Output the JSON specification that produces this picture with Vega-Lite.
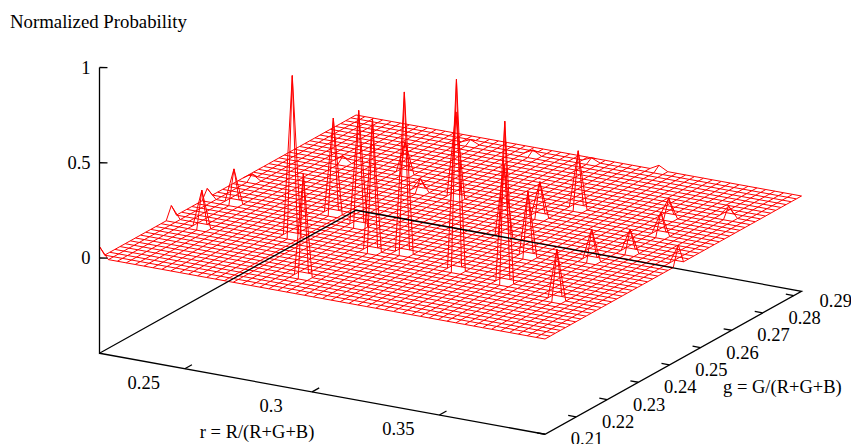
{"$schema":"https://vega.github.io/schema/vega-lite/v6.json","width":851,"height":444,"padding":0,"autosize":"none","background":"white","view":{"stroke":null},
"datasets":{"surface":[
{"r":0.2165,"g":0.21,"p":0.06},{"r":0.22,"g":0.21,"p":0},{"r":0.2235,"g":0.21,"p":0},{"r":0.227,"g":0.21,"p":0},{"r":0.2305,"g":0.21,"p":0},{"r":0.234,"g":0.21,"p":0},{"r":0.2375,"g":0.21,"p":0},{"r":0.241,"g":0.21,"p":0},{"r":0.2445,"g":0.21,"p":0},{"r":0.248,"g":0.21,"p":0},{"r":0.2515,"g":0.21,"p":0},{"r":0.255,"g":0.21,"p":0},{"r":0.2585,"g":0.21,"p":0},{"r":0.262,"g":0.21,"p":0},{"r":0.2655,"g":0.21,"p":0},{"r":0.269,"g":0.21,"p":0},{"r":0.2725,"g":0.21,"p":0},{"r":0.276,"g":0.21,"p":0},{"r":0.2795,"g":0.21,"p":0},{"r":0.283,"g":0.21,"p":0},{"r":0.2865,"g":0.21,"p":0},{"r":0.29,"g":0.21,"p":0},{"r":0.2935,"g":0.21,"p":0},{"r":0.297,"g":0.21,"p":0},{"r":0.3005,"g":0.21,"p":0},{"r":0.304,"g":0.21,"p":0},{"r":0.3075,"g":0.21,"p":0},{"r":0.311,"g":0.21,"p":0},{"r":0.3145,"g":0.21,"p":0},{"r":0.318,"g":0.21,"p":0},{"r":0.3215,"g":0.21,"p":0},{"r":0.325,"g":0.21,"p":0},{"r":0.3285,"g":0.21,"p":0},{"r":0.332,"g":0.21,"p":0},{"r":0.3355,"g":0.21,"p":0},{"r":0.339,"g":0.21,"p":0},{"r":0.3425,"g":0.21,"p":0},{"r":0.346,"g":0.21,"p":0},{"r":0.3495,"g":0.21,"p":0},{"r":0.353,"g":0.21,"p":0},{"r":0.3565,"g":0.21,"p":0},{"r":0.36,"g":0.21,"p":0},{"r":0.3635,"g":0.21,"p":0},{"r":0.367,"g":0.21,"p":0},{"r":0.3705,"g":0.21,"p":0},{"r":0.374,"g":0.21,"p":0},{"r":0.3775,"g":0.21,"p":0},{"r":0.381,"g":0.21,"p":0},{"r":0.3845,"g":0.21,"p":0},{"r":0.388,"g":0.21,"p":0},{"r":0.3915,"g":0.21,"p":0},
{"r":0.2165,"g":0.2925,"p":0},{"r":0.22,"g":0.2925,"p":0},{"r":0.2235,"g":0.2925,"p":0},{"r":0.227,"g":0.2925,"p":0},{"r":0.2305,"g":0.2925,"p":0},{"r":0.234,"g":0.2925,"p":0},{"r":0.2375,"g":0.2925,"p":0},{"r":0.241,"g":0.2925,"p":0},{"r":0.2445,"g":0.2925,"p":0},{"r":0.248,"g":0.2925,"p":0},{"r":0.2515,"g":0.2925,"p":0},{"r":0.255,"g":0.2925,"p":0},{"r":0.2585,"g":0.2925,"p":0},{"r":0.262,"g":0.2925,"p":0},{"r":0.2655,"g":0.2925,"p":0},{"r":0.269,"g":0.2925,"p":0},{"r":0.2725,"g":0.2925,"p":0},{"r":0.276,"g":0.2925,"p":0},{"r":0.2795,"g":0.2925,"p":0},{"r":0.283,"g":0.2925,"p":0},{"r":0.2865,"g":0.2925,"p":0},{"r":0.29,"g":0.2925,"p":0},{"r":0.2935,"g":0.2925,"p":0},{"r":0.297,"g":0.2925,"p":0},{"r":0.3005,"g":0.2925,"p":0},{"r":0.304,"g":0.2925,"p":0},{"r":0.3075,"g":0.2925,"p":0},{"r":0.311,"g":0.2925,"p":0},{"r":0.3145,"g":0.2925,"p":0},{"r":0.318,"g":0.2925,"p":0},{"r":0.3215,"g":0.2925,"p":0},{"r":0.325,"g":0.2925,"p":0},{"r":0.3285,"g":0.2925,"p":0},{"r":0.332,"g":0.2925,"p":0},{"r":0.3355,"g":0.2925,"p":0.025},{"r":0.339,"g":0.2925,"p":0},{"r":0.3425,"g":0.2925,"p":0},{"r":0.346,"g":0.2925,"p":0},{"r":0.3495,"g":0.2925,"p":0},{"r":0.353,"g":0.2925,"p":0},{"r":0.3565,"g":0.2925,"p":0},{"r":0.36,"g":0.2925,"p":0},{"r":0.3635,"g":0.2925,"p":0},{"r":0.367,"g":0.2925,"p":0},{"r":0.3705,"g":0.2925,"p":0},{"r":0.374,"g":0.2925,"p":0},{"r":0.3775,"g":0.2925,"p":0},{"r":0.381,"g":0.2925,"p":0},{"r":0.3845,"g":0.2925,"p":0},{"r":0.388,"g":0.2925,"p":0},{"r":0.3915,"g":0.2925,"p":0},
{"r":0.2165,"g":0.21165,"p":0},{"r":0.2165,"g":0.2133,"p":0},{"r":0.2165,"g":0.21495,"p":0},{"r":0.2165,"g":0.2166,"p":0},{"r":0.2165,"g":0.21825,"p":0},{"r":0.2165,"g":0.2199,"p":0},{"r":0.2165,"g":0.22155,"p":0},{"r":0.2165,"g":0.2232,"p":0},{"r":0.2165,"g":0.22485,"p":0},{"r":0.2165,"g":0.2265,"p":0},{"r":0.2165,"g":0.22815,"p":0},{"r":0.2165,"g":0.2298,"p":0},{"r":0.2165,"g":0.23145,"p":0},{"r":0.2165,"g":0.2331,"p":0.065},{"r":0.2165,"g":0.23475,"p":0},{"r":0.2165,"g":0.2364,"p":0},{"r":0.2165,"g":0.23805,"p":0},{"r":0.2165,"g":0.2397,"p":0},{"r":0.2165,"g":0.24135,"p":0},{"r":0.2165,"g":0.243,"p":0},{"r":0.2165,"g":0.24465,"p":0.05},{"r":0.2165,"g":0.2463,"p":0},{"r":0.2165,"g":0.24795,"p":0},{"r":0.2165,"g":0.2496,"p":0},{"r":0.2165,"g":0.25125,"p":0},{"r":0.2165,"g":0.2529,"p":0},{"r":0.2165,"g":0.25455,"p":0},{"r":0.2165,"g":0.2562,"p":0},{"r":0.2165,"g":0.25785,"p":0},{"r":0.2165,"g":0.2595,"p":0},{"r":0.2165,"g":0.26115,"p":0},{"r":0.2165,"g":0.2628,"p":0},{"r":0.2165,"g":0.26445,"p":0},{"r":0.2165,"g":0.2661,"p":0},{"r":0.2165,"g":0.26775,"p":0},{"r":0.2165,"g":0.2694,"p":0},{"r":0.2165,"g":0.27105,"p":0},{"r":0.2165,"g":0.2727,"p":0},{"r":0.2165,"g":0.27435,"p":0},{"r":0.2165,"g":0.276,"p":0},{"r":0.2165,"g":0.27765,"p":0},{"r":0.2165,"g":0.2793,"p":0},{"r":0.2165,"g":0.28095,"p":0},{"r":0.2165,"g":0.2826,"p":0},{"r":0.2165,"g":0.28425,"p":0},{"r":0.2165,"g":0.2859,"p":0},{"r":0.2165,"g":0.28755,"p":0},{"r":0.2165,"g":0.2892,"p":0},{"r":0.2165,"g":0.29085,"p":0},
{"r":0.3915,"g":0.21165,"p":0},{"r":0.3915,"g":0.2133,"p":0},{"r":0.3915,"g":0.21495,"p":0},{"r":0.3915,"g":0.2166,"p":0},{"r":0.3915,"g":0.21825,"p":0},{"r":0.3915,"g":0.2199,"p":0},{"r":0.3915,"g":0.22155,"p":0},{"r":0.3915,"g":0.2232,"p":0},{"r":0.3915,"g":0.22485,"p":0},{"r":0.3915,"g":0.2265,"p":0},{"r":0.3915,"g":0.22815,"p":0},{"r":0.3915,"g":0.2298,"p":0},{"r":0.3915,"g":0.23145,"p":0},{"r":0.3915,"g":0.2331,"p":0},{"r":0.3915,"g":0.23475,"p":0},{"r":0.3915,"g":0.2364,"p":0},{"r":0.3915,"g":0.23805,"p":0},{"r":0.3915,"g":0.2397,"p":0},{"r":0.3915,"g":0.24135,"p":0},{"r":0.3915,"g":0.243,"p":0},{"r":0.3915,"g":0.24465,"p":0},{"r":0.3915,"g":0.2463,"p":0},{"r":0.3915,"g":0.24795,"p":0},{"r":0.3915,"g":0.2496,"p":0},{"r":0.3915,"g":0.25125,"p":0},{"r":0.3915,"g":0.2529,"p":0.103},{"r":0.3915,"g":0.25455,"p":0},{"r":0.3915,"g":0.2562,"p":0},{"r":0.3915,"g":0.25785,"p":0},{"r":0.3915,"g":0.2595,"p":0},{"r":0.3915,"g":0.26115,"p":0},{"r":0.3915,"g":0.2628,"p":0},{"r":0.3915,"g":0.26445,"p":0},{"r":0.3915,"g":0.2661,"p":0},{"r":0.3915,"g":0.26775,"p":0},{"r":0.3915,"g":0.2694,"p":0},{"r":0.3915,"g":0.27105,"p":0},{"r":0.3915,"g":0.2727,"p":0},{"r":0.3915,"g":0.27435,"p":0},{"r":0.3915,"g":0.276,"p":0},{"r":0.3915,"g":0.27765,"p":0},{"r":0.3915,"g":0.2793,"p":0},{"r":0.3915,"g":0.28095,"p":0},{"r":0.3915,"g":0.2826,"p":0},{"r":0.3915,"g":0.28425,"p":0},{"r":0.3915,"g":0.2859,"p":0},{"r":0.3915,"g":0.28755,"p":0},{"r":0.3915,"g":0.2892,"p":0},{"r":0.3915,"g":0.29085,"p":0},
{"r":0.2305,"g":0.23145,"p":0.195},{"r":0.227,"g":0.23145,"p":0},{"r":0.234,"g":0.23145,"p":0},{"r":0.2305,"g":0.2298,"p":0},{"r":0.2305,"g":0.2331,"p":0},
{"r":0.22,"g":0.2331,"p":0},{"r":0.22,"g":0.24465,"p":0},
{"r":0.227,"g":0.24465,"p":0.178},{"r":0.2235,"g":0.24465,"p":0},{"r":0.2305,"g":0.24465,"p":0},{"r":0.227,"g":0.243,"p":0},{"r":0.227,"g":0.2463,"p":0},
{"r":0.22,"g":0.2562,"p":0.03},{"r":0.2235,"g":0.2562,"p":0},{"r":0.22,"g":0.25455,"p":0},{"r":0.22,"g":0.25785,"p":0},
{"r":0.262,"g":0.23475,"p":0.843},{"r":0.2585,"g":0.23475,"p":0},{"r":0.2655,"g":0.23475,"p":0},{"r":0.262,"g":0.2331,"p":0},{"r":0.262,"g":0.2364,"p":0},
{"r":0.2865,"g":0.21825,"p":0.537},{"r":0.283,"g":0.21825,"p":0},{"r":0.29,"g":0.21825,"p":0},{"r":0.2865,"g":0.2166,"p":0},{"r":0.2865,"g":0.2199,"p":0},
{"r":0.262,"g":0.24795,"p":0.5},{"r":0.2585,"g":0.24795,"p":0},{"r":0.2655,"g":0.24795,"p":0},{"r":0.262,"g":0.2463,"p":0},{"r":0.262,"g":0.2496,"p":0},
{"r":0.276,"g":0.24465,"p":0.604},{"r":0.2725,"g":0.24465,"p":0},{"r":0.2795,"g":0.24465,"p":0},{"r":0.276,"g":0.243,"p":0},{"r":0.276,"g":0.2463,"p":0},
{"r":0.2935,"g":0.23475,"p":0.693},{"r":0.29,"g":0.23475,"p":0},{"r":0.297,"g":0.23475,"p":0},{"r":0.2935,"g":0.2331,"p":0},{"r":0.2935,"g":0.2364,"p":0},
{"r":0.2375,"g":0.27105,"p":0.03},{"r":0.234,"g":0.27105,"p":0},{"r":0.241,"g":0.27105,"p":0},{"r":0.2375,"g":0.2694,"p":0},{"r":0.2375,"g":0.2727,"p":0},
{"r":0.304,"g":0.2364,"p":0.844},{"r":0.3005,"g":0.2364,"p":0},{"r":0.3075,"g":0.2364,"p":0},{"r":0.304,"g":0.23475,"p":0},{"r":0.304,"g":0.23805,"p":0},
{"r":0.262,"g":0.27105,"p":0.166},{"r":0.2585,"g":0.27105,"p":0},{"r":0.2655,"g":0.27105,"p":0},{"r":0.262,"g":0.2694,"p":0},{"r":0.262,"g":0.2727,"p":0},
{"r":0.3285,"g":0.2331,"p":1},{"r":0.325,"g":0.2331,"p":0},{"r":0.332,"g":0.2331,"p":0},{"r":0.3285,"g":0.23145,"p":0},{"r":0.3285,"g":0.23475,"p":0},
{"r":0.29,"g":0.26445,"p":0.45},{"r":0.2865,"g":0.26445,"p":0},{"r":0.2935,"g":0.26445,"p":0},{"r":0.29,"g":0.2628,"p":0},{"r":0.29,"g":0.2661,"p":0},
{"r":0.276,"g":0.26445,"p":0.067},{"r":0.2725,"g":0.26445,"p":0},{"r":0.2795,"g":0.26445,"p":0},{"r":0.276,"g":0.2628,"p":0},{"r":0.276,"g":0.2661,"p":0},
{"r":0.2655,"g":0.2892,"p":0.02},{"r":0.262,"g":0.2892,"p":0},{"r":0.269,"g":0.2892,"p":0},{"r":0.2655,"g":0.28755,"p":0},{"r":0.2655,"g":0.29085,"p":0},
{"r":0.3495,"g":0.23145,"p":0.846},{"r":0.346,"g":0.23145,"p":0},{"r":0.353,"g":0.23145,"p":0},{"r":0.3495,"g":0.2298,"p":0},{"r":0.3495,"g":0.2331,"p":0},
{"r":0.325,"g":0.25125,"p":0.377},{"r":0.3215,"g":0.25125,"p":0},{"r":0.3285,"g":0.25125,"p":0},{"r":0.325,"g":0.2496,"p":0},{"r":0.325,"g":0.2529,"p":0},
{"r":0.29,"g":0.2892,"p":0.025},{"r":0.2865,"g":0.2892,"p":0},{"r":0.2935,"g":0.2892,"p":0},{"r":0.29,"g":0.28755,"p":0},{"r":0.29,"g":0.29085,"p":0},
{"r":0.3425,"g":0.24465,"p":0.34},{"r":0.339,"g":0.24465,"p":0},{"r":0.346,"g":0.24465,"p":0},{"r":0.3425,"g":0.243,"p":0},{"r":0.3425,"g":0.2463,"p":0},
{"r":0.325,"g":0.2628,"p":0.184},{"r":0.3215,"g":0.2628,"p":0},{"r":0.3285,"g":0.2628,"p":0},{"r":0.325,"g":0.26115,"p":0},{"r":0.325,"g":0.26445,"p":0},
{"r":0.332,"g":0.2694,"p":0.303},{"r":0.3285,"g":0.2694,"p":0},{"r":0.3355,"g":0.2694,"p":0},{"r":0.332,"g":0.26775,"p":0},{"r":0.332,"g":0.27105,"p":0},
{"r":0.311,"g":0.29085,"p":0.02},{"r":0.3075,"g":0.29085,"p":0},{"r":0.3145,"g":0.29085,"p":0},{"r":0.311,"g":0.2892,"p":0},
{"r":0.3635,"g":0.24795,"p":0.163},{"r":0.36,"g":0.24795,"p":0},{"r":0.367,"g":0.24795,"p":0},{"r":0.3635,"g":0.2463,"p":0},{"r":0.3635,"g":0.2496,"p":0},
{"r":0.374,"g":0.22815,"p":0.264},{"r":0.3705,"g":0.22815,"p":0},{"r":0.3775,"g":0.22815,"p":0},{"r":0.374,"g":0.2265,"p":0},{"r":0.374,"g":0.2298,"p":0},
{"r":0.3355,"g":0.29085,"p":0},
{"r":0.3635,"g":0.2727,"p":0.1},{"r":0.36,"g":0.2727,"p":0},{"r":0.367,"g":0.2727,"p":0},{"r":0.3635,"g":0.27105,"p":0},{"r":0.3635,"g":0.27435,"p":0},
{"r":0.3705,"g":0.26445,"p":0.119},{"r":0.367,"g":0.26445,"p":0},{"r":0.374,"g":0.26445,"p":0},{"r":0.3705,"g":0.2628,"p":0},{"r":0.3705,"g":0.2661,"p":0},
{"r":0.381,"g":0.27765,"p":0.057},{"r":0.3775,"g":0.27765,"p":0},{"r":0.3845,"g":0.27765,"p":0},{"r":0.381,"g":0.276,"p":0},{"r":0.381,"g":0.2793,"p":0},
{"r":0.3705,"g":0.25455,"p":0.12},{"r":0.367,"g":0.25455,"p":0},{"r":0.374,"g":0.25455,"p":0},{"r":0.3705,"g":0.2529,"p":0},{"r":0.3705,"g":0.2562,"p":0},
{"r":0.388,"g":0.2529,"p":0}
],
"frame":[
{"s":"box","n":1,"r":0.2165,"g":0.21,"p":-0.5},{"s":"box","n":2,"r":0.3915,"g":0.21,"p":-0.5},{"s":"box","n":3,"r":0.3915,"g":0.2925,"p":-0.5},{"s":"box","n":4,"r":0.2165,"g":0.2925,"p":-0.5},{"s":"box","n":5,"r":0.2165,"g":0.21,"p":-0.5},{"s":"box","n":6,"r":0.2165,"g":0.21,"p":1},
{"s":"r1","n":1,"r":0.25,"g":0.21,"p":-0.5},{"s":"r1","n":2,"r":0.25,"g":0.2123,"p":-0.5},
{"s":"r2","n":1,"r":0.3,"g":0.21,"p":-0.5},{"s":"r2","n":2,"r":0.3,"g":0.2123,"p":-0.5},
{"s":"r3","n":1,"r":0.35,"g":0.21,"p":-0.5},{"s":"r3","n":2,"r":0.35,"g":0.2123,"p":-0.5},
{"s":"g1","n":1,"r":0.3915,"g":0.21,"p":-0.5},{"s":"g1","n":2,"r":0.3884,"g":0.21,"p":-0.5},
{"s":"g2","n":1,"r":0.3915,"g":0.22,"p":-0.5},{"s":"g2","n":2,"r":0.3884,"g":0.22,"p":-0.5},
{"s":"g3","n":1,"r":0.3915,"g":0.23,"p":-0.5},{"s":"g3","n":2,"r":0.3884,"g":0.23,"p":-0.5},
{"s":"g4","n":1,"r":0.3915,"g":0.24,"p":-0.5},{"s":"g4","n":2,"r":0.3884,"g":0.24,"p":-0.5},
{"s":"g5","n":1,"r":0.3915,"g":0.25,"p":-0.5},{"s":"g5","n":2,"r":0.3884,"g":0.25,"p":-0.5},
{"s":"g6","n":1,"r":0.3915,"g":0.26,"p":-0.5},{"s":"g6","n":2,"r":0.3884,"g":0.26,"p":-0.5},
{"s":"g7","n":1,"r":0.3915,"g":0.27,"p":-0.5},{"s":"g7","n":2,"r":0.3884,"g":0.27,"p":-0.5},
{"s":"g8","n":1,"r":0.3915,"g":0.28,"p":-0.5},{"s":"g8","n":2,"r":0.3884,"g":0.28,"p":-0.5},
{"s":"g9","n":1,"r":0.3915,"g":0.29,"p":-0.5},{"s":"g9","n":2,"r":0.3884,"g":0.29,"p":-0.5},
{"s":"z1","n":1,"r":0.2165,"g":0.21,"p":1},{"s":"z1","n":2,"r":0.2189,"g":0.2106,"p":1},
{"s":"z2","n":1,"r":0.2165,"g":0.21,"p":0.5},{"s":"z2","n":2,"r":0.2189,"g":0.2106,"p":0.5},
{"s":"z3","n":1,"r":0.2165,"g":0.21,"p":0},{"s":"z3","n":2,"r":0.2189,"g":0.2106,"p":0}
]},
"layer":[
{"data":{"name":"surface"},"transform":[{"calculate":"99.5+(datum.r-0.2165)/0.175*445.5+(datum.g-0.21)/0.0825*256.5","as":"sx"},{"calculate":"258+(datum.r-0.2165)/0.175*81-(datum.g-0.21)/0.0825*143-190.5*datum.p","as":"sy"}],"mark":{"type":"line","stroke":"#ff0000","strokeWidth":1,"interpolate":"linear"},"encoding":{"x":{"field":"sx","type":"quantitative","scale":{"domain":[0,851],"nice":false,"zero":false},"axis":null},"y":{"field":"sy","type":"quantitative","scale":{"domain":[444,0],"nice":false,"zero":false},"axis":null},"detail":{"field":"r"},"order":{"field":"g"}}},
{"data":{"name":"surface"},"transform":[{"calculate":"99.5+(datum.r-0.2165)/0.175*445.5+(datum.g-0.21)/0.0825*256.5","as":"sx"},{"calculate":"258+(datum.r-0.2165)/0.175*81-(datum.g-0.21)/0.0825*143-190.5*datum.p","as":"sy"}],"mark":{"type":"line","stroke":"#ff0000","strokeWidth":1,"interpolate":"linear"},"encoding":{"x":{"field":"sx","type":"quantitative","scale":{"domain":[0,851],"nice":false,"zero":false},"axis":null},"y":{"field":"sy","type":"quantitative","scale":{"domain":[444,0],"nice":false,"zero":false},"axis":null},"detail":{"field":"g"},"order":{"field":"r"}}},
{"data":{"name":"frame"},"transform":[{"calculate":"99.5+(datum.r-0.2165)/0.175*445.5+(datum.g-0.21)/0.0825*256.5","as":"sx"},{"calculate":"258+(datum.r-0.2165)/0.175*81-(datum.g-0.21)/0.0825*143-190.5*datum.p","as":"sy"}],"mark":{"type":"line","stroke":"#000000","strokeWidth":1.3},"encoding":{"x":{"field":"sx","type":"quantitative","scale":{"domain":[0,851],"nice":false,"zero":false},"axis":null},"y":{"field":"sy","type":"quantitative","scale":{"domain":[444,0],"nice":false,"zero":false},"axis":null},"detail":{"field":"s"},"order":{"field":"n"}}},
{"data":{"values":[{"t":"0.25","r":0.25,"g":0.21,"p":-0.5},{"t":"0.3","r":0.3,"g":0.21,"p":-0.5},{"t":"0.35","r":0.35,"g":0.21,"p":-0.5}]},"transform":[{"calculate":"99.5+(datum.r-0.2165)/0.175*445.5+(datum.g-0.21)/0.0825*256.5","as":"sx"},{"calculate":"258+(datum.r-0.2165)/0.175*81-(datum.g-0.21)/0.0825*143-190.5*datum.p","as":"sy"}],"mark":{"type":"text","font":"Liberation Serif","fontSize":18.5,"dx":-41,"dy":14,"align":"center","baseline":"middle","color":"#000000"},"encoding":{"x":{"field":"sx","type":"quantitative","scale":{"domain":[0,851],"nice":false,"zero":false},"axis":null},"y":{"field":"sy","type":"quantitative","scale":{"domain":[444,0],"nice":false,"zero":false},"axis":null},"text":{"field":"t"}}},
{"data":{"values":[{"t":"0.21","r":0.3915,"g":0.21,"p":-0.5},{"t":"0.22","r":0.3915,"g":0.22,"p":-0.5},{"t":"0.23","r":0.3915,"g":0.23,"p":-0.5},{"t":"0.24","r":0.3915,"g":0.24,"p":-0.5},{"t":"0.25","r":0.3915,"g":0.25,"p":-0.5},{"t":"0.26","r":0.3915,"g":0.26,"p":-0.5},{"t":"0.27","r":0.3915,"g":0.27,"p":-0.5},{"t":"0.28","r":0.3915,"g":0.28,"p":-0.5},{"t":"0.29","r":0.3915,"g":0.29,"p":-0.5}]},"transform":[{"calculate":"99.5+(datum.r-0.2165)/0.175*445.5+(datum.g-0.21)/0.0825*256.5","as":"sx"},{"calculate":"258+(datum.r-0.2165)/0.175*81-(datum.g-0.21)/0.0825*143-190.5*datum.p","as":"sy"}],"mark":{"type":"text","font":"Liberation Serif","fontSize":18.5,"dx":42,"dy":5,"align":"center","baseline":"middle","color":"#000000"},"encoding":{"x":{"field":"sx","type":"quantitative","scale":{"domain":[0,851],"nice":false,"zero":false},"axis":null},"y":{"field":"sy","type":"quantitative","scale":{"domain":[444,0],"nice":false,"zero":false},"axis":null},"text":{"field":"t"}}},
{"data":{"values":[{"t":"1","r":0.2165,"g":0.21,"p":1},{"t":"0.5","r":0.2165,"g":0.21,"p":0.5},{"t":"0","r":0.2165,"g":0.21,"p":0}]},"transform":[{"calculate":"99.5+(datum.r-0.2165)/0.175*445.5+(datum.g-0.21)/0.0825*256.5","as":"sx"},{"calculate":"258+(datum.r-0.2165)/0.175*81-(datum.g-0.21)/0.0825*143-190.5*datum.p","as":"sy"}],"mark":{"type":"text","font":"Liberation Serif","fontSize":18.5,"dx":-9,"dy":0,"align":"right","baseline":"middle","color":"#000000"},"encoding":{"x":{"field":"sx","type":"quantitative","scale":{"domain":[0,851],"nice":false,"zero":false},"axis":null},"y":{"field":"sy","type":"quantitative","scale":{"domain":[444,0],"nice":false,"zero":false},"axis":null},"text":{"field":"t"}}},
{"data":{"values":[{"t":"r = R/(R+G+B)","r":0.3,"g":0.21,"p":-0.5}]},"transform":[{"calculate":"99.5+(datum.r-0.2165)/0.175*445.5+(datum.g-0.21)/0.0825*256.5","as":"sx"},{"calculate":"258+(datum.r-0.2165)/0.175*81-(datum.g-0.21)/0.0825*143-190.5*datum.p","as":"sy"}],"mark":{"type":"text","font":"Liberation Serif","fontSize":18.5,"dx":-55,"dy":40,"align":"center","baseline":"middle","color":"#000000"},"encoding":{"x":{"field":"sx","type":"quantitative","scale":{"domain":[0,851],"nice":false,"zero":false},"axis":null},"y":{"field":"sy","type":"quantitative","scale":{"domain":[444,0],"nice":false,"zero":false},"axis":null},"text":{"field":"t"}}},
{"data":{"values":[{"t":"g = G/(R+G+B)","r":0.3915,"g":0.25,"p":-0.5}]},"transform":[{"calculate":"99.5+(datum.r-0.2165)/0.175*445.5+(datum.g-0.21)/0.0825*256.5","as":"sx"},{"calculate":"258+(datum.r-0.2165)/0.175*81-(datum.g-0.21)/0.0825*143-190.5*datum.p","as":"sy"}],"mark":{"type":"text","font":"Liberation Serif","fontSize":18.5,"dx":113,"dy":22,"align":"center","baseline":"middle","color":"#000000"},"encoding":{"x":{"field":"sx","type":"quantitative","scale":{"domain":[0,851],"nice":false,"zero":false},"axis":null},"y":{"field":"sy","type":"quantitative","scale":{"domain":[444,0],"nice":false,"zero":false},"axis":null},"text":{"field":"t"}}},
{"data":{"values":[{"t":"Normalized Probability","r":0.2165,"g":0.21,"p":1}]},"transform":[{"calculate":"99.5+(datum.r-0.2165)/0.175*445.5+(datum.g-0.21)/0.0825*256.5","as":"sx"},{"calculate":"258+(datum.r-0.2165)/0.175*81-(datum.g-0.21)/0.0825*143-190.5*datum.p","as":"sy"}],"mark":{"type":"text","font":"Liberation Serif","fontSize":18.8,"dx":-89.5,"dy":-46,"align":"left","baseline":"middle","color":"#000000"},"encoding":{"x":{"field":"sx","type":"quantitative","scale":{"domain":[0,851],"nice":false,"zero":false},"axis":null},"y":{"field":"sy","type":"quantitative","scale":{"domain":[444,0],"nice":false,"zero":false},"axis":null},"text":{"field":"t"}}}
]}
